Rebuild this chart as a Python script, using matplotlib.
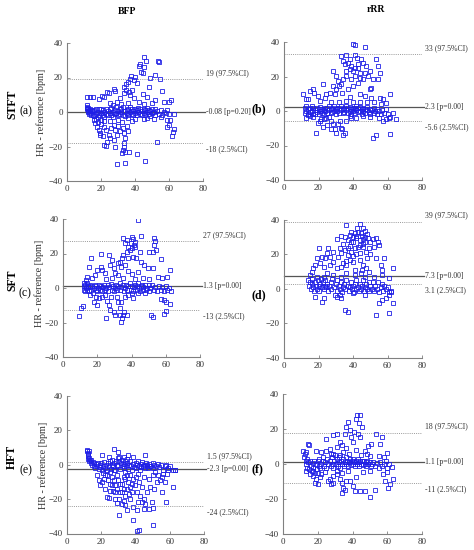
import matplotlib.pyplot as plt

plt.rcParams['font.family'] = ['Liberation Serif', 'DejaVu Serif']

# (mean HR, HR - reference) pairs
bfp_stft = [
    (11.5, 4), (11.8, 2.5), (12, 3), (12, 1.5), (12.3, 0.5), (12.5, 2.5), (12.5, 0), (13, 1), (13, -1),
    (13.5, 2), (13.5, -0.5), (14, 0.5), (14, -2), (14.5, 1), (15, -1.5), (15, 0.5), (16, -2.5), (16, 1),
    (17, -1), (17, 2), (18, -3), (18, 0), (19, 1.5), (19, -1.5), (20, -0.5), (20, 2), (21, -2), (21, 1),
    (22, 0), (22, -3), (23, 2), (23, -1), (24, 0.5), (24, -2), (25, 1.5), (25, -0.5), (26, -1.5), (26, 2.5),
    (27, 0), (27, -3), (28, 1), (28, -1), (29, 3), (29, -0.5), (30, 0.5), (30, -2), (31, 1.5), (31, -1),
    (32, 0), (32, 2), (33, -1.5), (33, 3), (34, 0.5), (34, -2.5), (35, 1), (35, -0.5), (36, 2), (36, -1.5),
    (37, 0), (37, 3), (38, -1), (38, 1.5), (39, 0.5), (39, -2), (40, 2), (40, -0.5), (41, 1), (41, -1.5),
    (42, 0), (42, 2.5), (43, -1), (43, 1.5), (44, 0.5), (44, -2), (45, 2), (45, -0.5), (46, 1), (46, -1.5),
    (47, 0), (47, 2.5), (48, -1), (48, 1), (49, 0.5), (49, -2.5), (50, 1.5), (50, -0.5), (51, 0), (52, -1.5),
    (52, 2), (53, 0.5), (54, -1), (55, 1), (56, -2), (57, 0), (58, -0.5), (59, 1), (60, -1),
    (45.3, 31.7), (46.5, 29.8), (53.3, 29.6), (54.1, 28.8), (42.7, 27.8), (42.2, 26.6), (45.3, 26.3),
    (43.5, 23.4), (44.7, 22.4), (51.6, 21.6), (54.5, 18.9), (37.6, 20.9), (36.9, 18.9), (35.7, 17.6),
    (34.9, 16.2), (40.2, 20.1), (39.2, 18.6), (41.2, 16.6), (49, 19.5), (48, 14.7), (33.7, 14.7),
    (34.9, 12.8), (36.3, 11.8), (37.3, 9.9), (55.9, 12.2), (27.5, 13.1), (28.4, 12.4), (23.5, 11.6),
    (24.5, 10.8), (20.6, 9.3), (21.6, 8.5), (18.6, 7.3), (15.3, 8.5), (11.8, 8.9), (13.3, 8.5), (52, 7),
    (56.9, 6), (61.2, 7), (59.8, 6), (44.7, 10.4), (47.1, 8.9), (39.2, 7.9), (42.2, 6), (31.4, 7.9),
    (29.4, 6), (25.5, 5), (33.3, 10.8), (38, 13), (32, 4.5), (36, 5), (45, 4.5), (50, 5), (27, 4),
    (15.7, -4.6), (16.7, -6.6), (17.6, -8.5), (18.6, -10.4), (19.6, -12.4), (19.2, -13.3), (21.6, -8.5),
    (23.1, -10.4), (24.5, -13.3), (25.5, -15.3), (23.5, -17.2), (22, -19.1), (23.1, -19.7), (27.5, -7.5),
    (28.4, -10.4), (29.4, -13.3), (27.8, -16.2), (28.4, -20.5), (32.4, -5.6), (32.9, -9.5), (33.7, -12.4),
    (34.3, -15.3), (33.3, -18.2), (33.7, -20.1), (32.9, -22), (32.4, -23.6), (34.3, -23), (36.3, -23),
    (29.4, -30.1), (34.3, -29.4), (41.2, -24.5), (45.7, -28.6), (52.9, -17.2), (58.8, -4.6), (59.8, -7.5),
    (58.8, -8.5), (63.1, -10), (62.4, -11.6), (61.8, -13.9), (60.8, -4.6), (62.7, -1.2), (36, -3.5),
    (38, -5), (40, -4), (45, -4), (47, -3.5), (51, -4), (55, -3), (20, -4.5), (22, -5), (25, -5.5),
    (30, -4.5), (17, -4), (26, -9), (30, -8), (31, -11), (35, -8), (36, -11), (21, -14), (18, -6), (20, -7),
]

rrr_stft = [
    (12, 2), (12, -1), (13, 3), (13, 0), (14, 1), (14, -2), (15, 2), (15, -0.5), (16, 0), (16, 3),
    (17, -1.5), (17, 1.5), (18, 0.5), (18, -2), (19, 2), (19, -0.5), (20, 1), (20, -1.5), (21, 0), (21, 2.5),
    (22, -1), (22, 1), (23, 0.5), (23, -2), (24, 2), (24, 0), (25, -1), (25, 1.5), (26, 0.5), (26, 3),
    (27, -1), (27, 1), (28, 2), (28, -0.5), (29, 0), (29, 3), (30, 1), (30, -1.5), (31, 2), (31, 0),
    (32, -1), (32, 1.5), (33, 0.5), (33, 3), (34, -1), (34, 1), (35, 2), (35, -0.5), (36, 0.5), (36, 3),
    (37, -1), (37, 1.5), (38, 0), (38, 2.5), (39, 1), (39, -1.5), (40, 2), (40, 0), (41, -1), (41, 1.5),
    (42, 0.5), (42, 3), (43, -0.5), (43, 1.5), (44, 0), (44, 2.5), (45, 1), (45, -1.5), (46, 2), (46, 0),
    (47, -1), (47, 1), (48, 0.5), (48, 2.5), (49, -0.5), (50, 1), (50, -2), (51, 0.5), (52, -1), (52, 1.5),
    (53, 0), (54, -1.5), (54, 1), (55, 0), (56, -2), (57, 0.5), (58, -1), (59, 1), (60, -2),
    (40, 38.8), (41, 38), (46.8, 37.1), (36.1, 32.2), (33.2, 31.9), (41, 32.2), (42.3, 30.9), (44.8, 29.9),
    (45.8, 28), (47.7, 26.1), (34.2, 29), (35.2, 27), (37.1, 28), (39, 26.1), (38.1, 24.1), (40, 23.2),
    (42.9, 25.1), (43.9, 22.2), (41, 20.3), (39, 18.3), (36.1, 20.3), (34.2, 18.3), (33.2, 15.4),
    (31.9, 14.5), (30.3, 12.5), (33.8, 10.6), (37.1, 12.5), (40, 14.5), (42.9, 16.4), (45.8, 18.3),
    (48.7, 20.3), (50, 23.2), (51.6, 18.3), (50.6, 13.5), (53.5, 29.9), (54.5, 26.1), (55.5, 22.2),
    (54.5, 18.3), (28.4, 23.2), (30.3, 20.3), (31.3, 17.4), (28.4, 14.5), (26.5, 10.6), (29.4, 9.7),
    (24.5, 9.7), (22.6, 15.4), (16.8, 12.9), (14.9, 11.6), (17.2, 10.6), (11, 9.7), (12.9, 6.8),
    (13.9, 6.8), (19.7, 8.7), (20.7, 5.8), (23.6, 7.7), (43.9, 9.7), (46.8, 8.7), (49.7, 12.5), (50.6, 7.7),
    (55.5, 7.7), (57.4, 6.8), (61.3, 9.7), (59.3, 4.8), (56.4, 3.9), (36, 6), (38, 8), (40, 5), (32, 5),
    (27, 5), (44, 5.5), (48, 5), (52, 5), (38, 30), (43, 27), (36, 23), (41, 25), (44, 19), (47, 22),
    (18.7, -12.5), (19.7, -6.8), (20.7, -5.8), (21.6, -4.8), (22.6, -9.1), (24.5, -3.9), (27.4, -5.8),
    (28.4, -7.7), (27.4, -10.2), (29.4, -10.6), (31.3, -7.7), (32.3, -5.8), (33.2, -9.7), (35.2, -12.5),
    (34.2, -14.1), (33.8, -10.2), (38.1, -2.9), (39, -3.9), (41.9, -3.9), (45.8, -2.9), (51.6, -15.4),
    (53.5, -14.1), (57.4, -5.8), (59.3, -4.8), (60.9, -3.9), (61.6, -13.5), (63.2, -1), (65.1, -4.8),
    (61.3, -3.3), (12.9, -3.9), (13.9, -2.5), (14.9, -2.9), (25, -8), (30, -13), (36, -6), (26, -3.5),
    (17, -3.5), (23, -4.5), (50, -3.5), (55, -4),
]

bfp_sft = [
    (12, 3), (12, -1), (12.5, 1), (13, -2), (13, 2), (13.5, 0), (14, -1), (14, 3), (14.5, 1), (15, -2),
    (15.5, 0.5), (16, 2), (16.5, -1), (17, 1), (17.5, -3), (18, 0), (18.5, 2), (19, -1), (19.5, 1), (20, -2),
    (20.5, 0), (21, 2), (21.5, -1), (22, 1), (23, -2), (23.5, 0.5), (24, 2), (24.5, -1), (25, 0), (26, 2),
    (26.5, -2), (27, 0.5), (28, 2.5), (28.5, -1), (29, 1), (30, -2), (30.5, 0), (31, 2), (31.5, -1), (32, 1),
    (33, 3), (33.5, -1), (34, 0.5), (35, 2), (35.5, -2), (36, 0), (37, 2), (37.5, -1), (38, 1), (39, 3),
    (39.5, -1), (40, 1), (41, -2), (41.5, 0.5), (42, 2), (43, -1), (43.5, 1), (44, 3), (44.5, 0), (45, -2),
    (45.5, 1), (46, 2), (46.5, -1), (47, 0.5), (48, 2), (48.5, -1), (49, 0), (50, 1.5), (50.5, -2), (51, 0),
    (52, 2), (53, -1), (54, 0.5), (55, -2), (56, 1), (57, -1), (58, 0.5), (59, -2), (60, 1), (61, -1), (62, 0),
    (44, 39.4), (45.7, 30.3), (53.3, 29.2), (53.7, 27.2), (40, 29.8), (41, 28.4), (41.9, 26.9), (41.5, 24.9),
    (40, 23), (39, 22), (42.3, 24), (39.6, 25.9), (35.2, 29.2), (37.1, 27.8), (36.2, 25.9), (38.1, 24),
    (37.1, 21.1), (35.2, 19.1), (34.3, 17.2), (33.3, 15.3), (32.4, 14.3), (33.9, 12.4), (36.2, 13.3),
    (38.1, 17.2), (41, 18.2), (42.9, 17.2), (44.8, 21.1), (45.7, 15.3), (47.2, 13.3), (49.5, 11.4),
    (50.5, 20.7), (52.4, 21.1), (54.3, 22), (52.9, 24.9), (57.1, 16.8), (55.2, 6.6), (58.1, 5.6),
    (62.5, 10.4), (61, 6.6), (52.4, 11.4), (16.2, 17.2), (15.2, 12.4), (21.9, 19.7), (21.9, 12.4),
    (26.7, 19.1), (28.6, 16.2), (27.6, 13.3), (29.5, 11.4), (30.5, 8.5), (24.8, 8.5), (22.9, 10.4),
    (20, 10.4), (18.7, 7.5), (17.1, 5.6), (14.3, 6.6), (13.3, 4.6), (28.6, 5.6), (32.4, 7.5),
    (38, 10), (40, 8), (44, 9), (47, 6), (35, 6), (25, 5), (42, 5), (50, 5),
    (10.5, -11.4), (11.4, -10.2), (9.5, -16.2), (18.1, -8.3), (20, -9.9), (21, -6), (22.5, -5), (24.8, -4.1),
    (25.7, -7.5), (26.7, -9.9), (27.6, -12.8), (25.1, -17.6), (29.5, -13.7), (30.5, -15.7), (32.4, -7.9),
    (33.3, -11.8), (33.3, -15.7), (34.3, -17.6), (33.9, -19.5), (35.2, -15.7), (35.8, -13.7), (37.1, -15.7),
    (31.4, -5), (36.2, -5), (38.1, -4.1), (41, -6), (51.4, -15.7), (52.4, -16.6), (59, -7), (60, -7.9),
    (57.1, -6.6), (62.5, -9.5), (60, -13.3), (59, -14.9), (62.9, -1.7), (40, -3.1), (43.8, -3.1),
    (47.6, -3.1), (16, -4), (19, -5), (28, -5), (34, -8),
]

rrr_sft = [
    (14, 5), (14.5, 2), (15, 4), (15.5, 0), (16, 3), (16.5, 6), (17, 1), (17.5, -1), (18, 4), (18.5, 2),
    (19, 0), (19.5, 5), (20, 2), (20.5, -1), (21, 3), (21.5, 6), (22, 1), (22.5, 4), (23, 0), (23.5, 2),
    (24, 5), (24.5, 1), (25, 3), (25.5, -1), (26, 2), (27, 4), (27.5, 0), (28, 6), (29, 1), (30, 3),
    (30.5, -1), (31, 5), (32, 2), (32.5, 0), (33, 4), (33.5, -2), (34, 1), (35, 3), (35.5, 0), (36, 5),
    (37, 2), (37.5, -1), (38, 1), (39, 4), (39.5, 0), (40, 2), (40.5, -2), (41, 3), (41.5, 0), (42, 5),
    (43, 1), (43.5, -1), (44, 3), (44.5, 0), (45, 2), (46, 5), (46.5, -1), (47, 1), (47.5, 3), (48, 0),
    (49, 4), (49.5, -1), (50, 2), (51, 0), (51.5, 4), (52, -1), (53, 2), (54, 0), (54.5, 4), (55, -2),
    (56, 1), (57, 3), (57.5, -1), (58, 2), (59, 0), (60, 1), (61, -2), (62, -1),
    (36.2, 37.1), (43.8, 37.5), (42.3, 35.2), (45.7, 35.2), (47.2, 33.6), (44.8, 32.3), (41, 32.3),
    (38.1, 31.3), (35.2, 30.3), (30.5, 29), (33.3, 30.9), (37.1, 28.4), (39, 27.4), (41.9, 29.4),
    (43.8, 28.4), (46.7, 30.3), (48.6, 29.4), (49.9, 27.4), (51.4, 29), (53.3, 29.4), (54.3, 27.4),
    (55.2, 25.5), (52.4, 24.5), (49.5, 23.5), (47.6, 21.6), (45.7, 24.5), (42.9, 24.5), (41, 23.5),
    (39, 21.6), (37.1, 19.7), (35.2, 22.6), (33.3, 20.6), (32.4, 23.5), (31.4, 18.7), (28.6, 21.6),
    (26.7, 18.7), (25.7, 23.5), (24.8, 20.6), (23.8, 17.7), (21.9, 18.7), (20, 23.5), (19, 17.7),
    (18.1, 13.9), (17.1, 11.9), (16.2, 10), (15.2, 8), (21, 14.8), (22.9, 12.9), (26.7, 13.9), (28.6, 15.8),
    (30.5, 11.9), (33.3, 12.9), (36.2, 13.9), (40, 15.8), (43.8, 16.8), (45.7, 13.9), (47.6, 11.9),
    (49.5, 10), (53.3, 17.7), (56.2, 13.9), (57.1, 10.9), (58.1, 18.1), (62.9, 11.9), (52.4, 7.1),
    (57.1, 8), (61, 6.1), (36.2, 9), (33.3, 7.1), (41, 8), (44.8, 9), (46.7, 7.1), (24.8, 9), (22.9, 7.1),
    (28.6, 8), (19, 7.1), (38, 25), (40, 27), (42, 20), (44, 21), (46, 26), (40, 19), (38, 17), (44, 25.5),
    (42, 31), (46, 29), (48, 32), (39, 33), (37, 24), (34, 26), (36, 16), (48, 18), (50, 20), (34, 15),
    (41, 11), (45, 11), (43, 33), (45, 31), (40, 30), (47, 27),
    (18.1, -4.6), (21.9, -7.5), (22.9, -5.5), (29.5, -3.6), (30.5, -4.6), (32.4, -3.6), (33.3, -5.5),
    (35.2, -12.3), (37.1, -13.3), (40, -2.6), (46.7, -3.2), (53.3, -15.2), (55.2, -8.4), (57.1, -6.5),
    (61, -3.6), (60.6, -14.2), (62.9, -8.4), (61.9, -1.6), (59, -5.5),
]

bfp_hft = [
    (11.5, 8), (12, 7), (12, 5), (12.5, 6), (12.5, 3.5), (13, 4), (13, 2), (13.5, 3), (14, 1), (14, 2.5),
    (14.5, 0), (15, 1.5), (15.5, -0.5), (16, 1), (16.5, -2), (17, 0.5), (17.5, -1), (18, 1), (18.5, -2.5),
    (19, 0), (19.5, -1.5), (20, 1), (20.5, -3), (21, -0.5), (21.5, 1.5), (22, -2), (23, 0), (23.5, -3),
    (24, 1), (24.5, -1), (25, 2), (25.5, -2.5), (26, 0), (26.5, 3), (27, -1), (27.5, 1), (28, -3), (28.5, 2),
    (29, 0), (29.5, 4), (30, -1), (30.5, 2), (31, -2.5), (31.5, 1), (32, 3), (32.5, -1), (33, 0.5),
    (33.5, -2), (34, 2), (34.5, -0.5), (35, 1), (35.5, -2.5), (36, 0), (37, 2), (37.5, -1), (38, -3),
    (38.5, 0.5), (39, -1.5), (40, 1), (40.5, -2), (41, 0), (41.5, 2), (42, -1), (42.5, -3), (43, 0.5),
    (43.5, -1.5), (44, 1.5), (44.5, -0.5), (45, 0), (45.5, -2), (46, 1), (46.5, -1), (47, 0), (47.5, -2),
    (48, 0.5), (48.5, -1), (49, -0.5), (50, 1), (50.5, -2), (51, 0), (52, -1), (53, 0.5), (54, -1.5),
    (55, 0), (56, -3), (57, -1), (58, 0), (59, -2), (60, -1), (62, -3), (63, -3),
    (11.7, 8.3), (12.6, 7.8), (20.4, 5.8), (27.2, 9.3), (29.5, 7.4), (30.1, 4.5), (33, 4.5), (35.9, 5.4),
    (38.8, 4.5), (45.6, 5.8), (35, 3.5), (24.3, 4.5),
    (17.5, -6.2), (18.4, -9.1), (19.4, -12), (20.4, -10.1), (21.4, -8.2), (22.3, -14), (23.3, -18.8),
    (24.3, -19.4), (25.2, -15), (26.2, -12), (27.2, -9.1), (28.2, -15.9), (29.1, -14), (30.1, -19.8),
    (31.1, -11.1), (32, -15.9), (33, -20.8), (34, -17.9), (35, -14), (35.9, -10.1), (36.9, -13),
    (37.9, -15.9), (38.8, -8.2), (39.8, -12), (40.8, -15.9), (41.7, -21.7), (42.7, -17.9), (43.7, -21.7),
    (44.7, -19.8), (45.6, -22.7), (46.6, -15.9), (47.6, -25.6), (48.5, -13), (49.5, -21.7), (50.1, -25.2),
    (50.9, -14), (52.4, -10.1), (54.4, -9.1), (55.3, -15.9), (57.3, -10.1), (57.9, -21.7), (61.7, -13),
    (58.3, -5.2), (59.2, -3.3), (63.1, -3.3), (40.8, -26.6), (35, -26.6), (34, -23.7), (30.1, -29.1),
    (38.8, -32.4), (40.8, -38.8), (42.3, -37.7), (50.5, -35.3), (32, -22.7), (28.2, -19.8), (38.8, -24.7),
    (44.7, -25.6), (25.2, -4.3), (23.3, -6.2), (29.1, -6.2), (33, -7.2), (36.9, -6.2), (44.7, -7.2),
    (47.6, -8.2), (50.5, -6.2), (53.4, -5.8), (55.3, -7.2), (51.5, -4.3), (56.3, -5.2), (27.2, -3.3),
    (34, -4.3), (41.7, -5.2), (22, -6), (24, -9), (26, -7), (28, -12), (30, -9), (32, -11), (34, -8),
    (36, -17), (38, -11), (40, -7), (42, -10), (44, -13), (31, -16), (27, -15), (33, -14), (37, -20),
    (29, -22), (25, -11), (21, -5), (35, -6),
]

rrr_hft = [
    (12, 4), (12.5, 6), (13, 2), (13, 7), (13.5, 0), (14, 3), (14, -2), (14.5, 1), (15, -3), (15.5, 2),
    (16, -1), (16.5, -4), (17, 0.5), (17.5, -2), (18, 2), (18.5, -5), (19, 0), (19.5, -3), (20, 1.5),
    (20.5, -1), (21, 3), (21.5, -2), (22, 0), (23, 2), (23.5, -1), (24, 1), (25, -2), (25.5, 3), (26, 0),
    (27, 2), (27.5, -1), (28, 4), (28.5, 0), (29, -2), (29.5, 2), (30, 5), (30.5, 0), (31, 3), (31.5, -1),
    (32, 1), (32.5, 4), (33, -2), (33.5, 2), (34, 0), (34.5, 3), (35, -1), (35.5, 1), (36, 4), (36.5, 0),
    (37, 2), (37.5, -1), (38, 1), (38.5, 3), (39, -0.5), (39.5, 2), (40, 0), (40.5, 3), (41, 1), (41.5, -1),
    (42, 2), (42.5, 0), (43, 3), (43.5, 1), (44, -1), (44.5, 2), (45, 0), (45.5, 1.5), (46, -0.5),
    (46.5, 2), (47, 0), (47.5, 1), (48, -1), (48.5, 1.5), (49, 0), (50, 1), (50.5, -1), (51, 0), (52, 1),
    (53, -1), (54, 0.5), (55, -2), (56, 1), (57, -1), (58, 0), (59, 2), (60, -2), (61, 0),
    (42.7, 28), (44.6, 27.9), (42.3, 25.5), (43.8, 23.2), (45.2, 21.3), (37.5, 24.2), (36.5, 21.3),
    (35.6, 17.4), (30.8, 17.4), (28.8, 16.4), (24.6, 14.5), (38.5, 19.3), (40.8, 18.4), (39.4, 15.5),
    (43.3, 17.4), (44.6, 15.5), (40.4, 12.6), (50.4, 11.6), (53.8, 17.4), (56.9, 15.5), (55.8, 11.6),
    (48.7, 10.1), (47.1, 7.7), (48.1, 5.8), (50, 4.8), (32.7, 12.6), (30.8, 9.7), (33.7, 10.6), (34.6, 6.8),
    (14.4, 11.6), (15, 10.6), (11.5, 7.4), (19.2, 7.7), (22.1, 6.8), (23.1, 3.9), (25, 7.7), (26.9, 8.7),
    (27.9, 5.8), (60, 6.2), (55.4, 4.6), (58.1, 3.9), (36, 9), (38, 6), (42, 8), (45, 5), (29, 6), (33, 5),
    (13.5, -3.9), (15.4, -5.8), (17.3, -6.8), (19.2, -8.7), (20.2, -11.6), (18.3, -10.6), (21.2, -7.7),
    (22.1, -5.8), (24, -4.8), (26, -9.7), (26.9, -8.7), (27.9, -11.6), (28.8, -10.6), (30.8, -5.8),
    (32.7, -8.7), (33.7, -10.6), (34.6, -13.5), (34.2, -16.4), (35.6, -15.1), (36.5, -9.7), (38.5, -9.7),
    (40.4, -12.6), (41.3, -15.5), (42.3, -7.7), (44.2, -15.5), (46.2, -4.8), (47.1, -15.5), (50, -19),
    (52.9, -15.1), (57.7, -5.8), (58.7, -9.7), (59.6, -4.8), (60.6, -13.5), (61.5, -11.2), (63.1, -8.7),
    (62.5, -1.9), (28.8, -6.8), (37.5, -3.9), (50, -3.9), (17, -4), (20, -5), (31, -4), (34, -5),
]

panels = [bfp_stft, rrr_stft, bfp_sft, rrr_sft, bfp_hft, rrr_hft]
mean_vals = [-0.08, 2.3, 1.3, 7.3, -2.3, 1.1]
upper_vals = [19, 33, 27, 39, 1.5, 18]
lower_vals = [-18, -5.6, -13, 3.1, -24, -11]
p_vals = ['0.20', '0.00', '0.00', '0.00', '0.00', '0.00']
panel_tags = ['(a)', '(b)', '(c)', '(d)', '(e)', '(f)']
methods = ['STFT', 'SFT', 'HFT']
columns = ['BFP', 'rRR']

W, H = 474, 550
fig = plt.figure(figsize=(W / 100, H / 100), dpi=100)

# axes boxes in pixels: left, top, width, height
boxes = [(67, 43, 136, 138), (284, 42, 138, 138),
         (63, 219, 137, 138), (284, 220, 138, 138),
         (67, 396, 137, 137.5), (283, 394, 139, 140)]

axis_grey = '#808080'
for i, pts in enumerate(panels):
    l, t, w, h = boxes[i]
    ax = fig.add_axes([l / W, 1 - (t + h) / H, w / W, h / H])
    xs = [p[0] for p in pts]
    ys = [p[1] for p in pts]
    ax.plot(xs, ys, 's', markersize=3.4, markerfacecolor='none',
            markeredgecolor='#1f1fe6', markeredgewidth=0.6, zorder=3)
    ax.axhline(mean_vals[i], xmin=0, xmax=1.015, color='#555555', lw=0.9, clip_on=False, zorder=2)
    ax.axhline(upper_vals[i], color='#9a9a9a', lw=0.7, ls=(0, (1, 1.2)), zorder=1)
    ax.axhline(lower_vals[i], color='#9a9a9a', lw=0.7, ls=(0, (1, 1.2)), zorder=1)
    ax.text(81.5, upper_vals[i] + 1.2, f'{upper_vals[i]:g} (97.5%CI)', fontsize=5.6,
            va='bottom', ha='left', color='#333333', clip_on=False)
    ax.text(81.5, mean_vals[i], f'{mean_vals[i]:g} [p={p_vals[i]}]', fontsize=5.6,
            va='center', ha='left', color='#333333', clip_on=False)
    ax.text(81.5, lower_vals[i] - 1.2, f'{lower_vals[i]:g} (2.5%CI)', fontsize=5.6,
            va='top', ha='left', color='#333333', clip_on=False)
    ax.set_xlim(0, 80)
    ax.set_ylim(-40, 40)
    ax.set_xticks([0, 20, 40, 60, 80])
    ax.set_yticks([-40, -20, 0, 20, 40])
    for s in ['top', 'right']:
        ax.spines[s].set_visible(False)
    for s in ['left', 'bottom']:
        ax.spines[s].set_color(axis_grey)
        ax.spines[s].set_linewidth(0.8)
    ax.tick_params(direction='in', length=2, width=0.6, color=axis_grey,
                   labelsize=6.5, labelcolor='#333333', pad=3)

    # panel tag
    tag_pos = [(26, 111), (259, 109), (25, 293), (259, 295), (26, 470), (257, 469)][i]
    fig.text(tag_pos[0] / W, 1 - tag_pos[1] / H, panel_tags[i], fontsize=8.5,
             fontweight='bold' if i % 2 else 'normal', ha='center', va='center')

# row labels and y labels
row_y = [104, 280, 457]
ylab_pos = [(41, 112), (39, 283), (43, 465)]
for r, name in enumerate(methods):
    fig.text(12 / W, 1 - row_y[r] / H, name, fontsize=8.5, fontweight='bold',
             rotation=90, ha='center', va='center')
    fig.text(ylab_pos[r][0] / W, 1 - ylab_pos[r][1] / H, 'HR - reference [bpm]',
             fontsize=7.3, rotation=90, ha='center', va='center', color='#333333')

# column titles
fig.text(127 / W, 1 - 12 / H, columns[0], fontsize=7, fontweight='bold', ha='center', va='center')
fig.text(376 / W, 1 - 10 / H, columns[1], fontsize=7, fontweight='bold', ha='center', va='center')

fig.savefig('out.png', dpi=100)
